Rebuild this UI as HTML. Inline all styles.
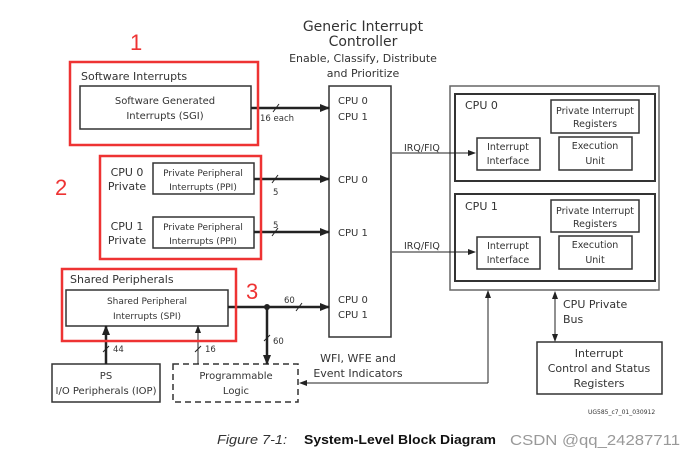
<!DOCTYPE html>
<html><head><meta charset="utf-8"><style>
html,body{margin:0;padding:0;background:#fff;}
svg{display:block;font-family:"DejaVu Sans","Liberation Sans",sans-serif;}
</style></head><body>
<svg width="695" height="458" viewBox="0 0 695 458" xmlns="http://www.w3.org/2000/svg">
<defs>
<marker id="a" markerWidth="10" markerHeight="8" refX="9" refY="4" orient="auto" markerUnits="userSpaceOnUse"><path d="M0,0 L10,4 L0,8 Z" fill="#222"/></marker>
<marker id="s" markerWidth="8" markerHeight="6" refX="7" refY="3" orient="auto" markerUnits="userSpaceOnUse"><path d="M0,0 L8,3 L0,6 Z" fill="#222"/></marker>
<marker id="sb" markerWidth="8" markerHeight="6" refX="1" refY="3" orient="auto" markerUnits="userSpaceOnUse"><path d="M8,0 L0,3 L8,6 Z" fill="#222"/></marker>
</defs>
<g fill="#333" text-anchor="middle">
<text x="363" y="31" font-size="14">Generic Interrupt</text>
<text x="363" y="46" font-size="14">Controller</text>
<text x="363" y="62" font-size="11">Enable, Classify, Distribute</text>
<text x="363" y="77" font-size="11">and Prioritize</text>
</g>
<g fill="none" stroke="#333" stroke-width="1.5">
<rect x="329" y="86" width="62" height="251"/>
<rect x="80" y="86" width="171" height="43"/>
<rect x="153" y="163" width="101" height="31"/>
<rect x="153" y="217" width="101" height="31"/>
<rect x="66" y="290" width="162" height="36"/>
<rect x="52" y="364" width="108" height="38"/>
<rect x="173" y="364" width="125" height="38" stroke-dasharray="6,4"/>
<rect x="450" y="86" width="209" height="204" stroke="#666"/>
<rect x="455" y="94" width="200" height="87" stroke-width="2"/>
<rect x="455" y="194" width="200" height="87" stroke-width="2"/>
<rect x="551" y="100" width="88" height="33"/>
<rect x="477" y="138" width="63" height="32"/>
<rect x="559" y="137" width="73" height="33"/>
<rect x="551" y="200" width="88" height="32"/>
<rect x="477" y="237" width="63" height="32"/>
<rect x="559" y="236" width="73" height="33"/>
<rect x="537" y="342" width="125" height="52"/>
</g>
<g stroke="#222" fill="none">
<line x1="251" y1="108" x2="329" y2="108" stroke-width="2.5" marker-end="url(#a)"/>
<line x1="254" y1="179" x2="329" y2="179" stroke-width="2.5" marker-end="url(#a)"/>
<line x1="254" y1="232" x2="329" y2="232" stroke-width="2.5" marker-end="url(#a)"/>
<line x1="228" y1="307" x2="329" y2="307" stroke-width="2.5" marker-end="url(#a)"/>
<line x1="267" y1="307" x2="267" y2="364" stroke-width="2.5" marker-end="url(#a)"/>
<line x1="106" y1="364" x2="106" y2="326" stroke-width="2.5" marker-end="url(#a)"/>
<line x1="198" y1="364" x2="198" y2="326" stroke-width="1" marker-end="url(#s)"/>
<line x1="392" y1="153" x2="475" y2="153" stroke-width="1" marker-end="url(#s)"/>
<line x1="392" y1="252" x2="475" y2="252" stroke-width="1" marker-end="url(#s)"/>
<polyline points="488,383 300,383" stroke-width="1" marker-end="url(#s)"/>
<line x1="488" y1="383" x2="488" y2="291" stroke-width="1" marker-end="url(#s)"/>
<line x1="555" y1="292" x2="555" y2="341" stroke-width="1" marker-end="url(#s)" marker-start="url(#sb)"/>
<g stroke-width="1">
<line x1="273" y1="112" x2="279" y2="104"/>
<line x1="272" y1="183" x2="278" y2="175"/>
<line x1="272" y1="236" x2="278" y2="228"/>
<line x1="296" y1="311" x2="302" y2="303"/>
<line x1="264" y1="341" x2="270" y2="335"/>
<line x1="103" y1="352" x2="109" y2="346"/>
<line x1="195" y1="352" x2="201" y2="346"/>
</g>
</g>
<circle cx="267" cy="307" r="3" fill="#222"/>
<g fill="#333" font-size="10" text-anchor="middle">
<text x="165" y="104">Software Generated</text>
<text x="165" y="119">Interrupts (SGI)</text>
<text x="203" y="176" font-size="9">Private Peripheral</text>
<text x="203" y="190" font-size="9">Interrupts (PPI)</text>
<text x="203" y="230" font-size="9">Private Peripheral</text>
<text x="203" y="244" font-size="9">Interrupts (PPI)</text>
<text x="147" y="304" font-size="9">Shared Peripheral</text>
<text x="147" y="319" font-size="9">Interrupts (SPI)</text>
<text x="106" y="379">PS</text>
<text x="106" y="394">I/O Peripherals (IOP)</text>
<text x="236" y="379">Programmable</text>
<text x="236" y="394">Logic</text>
<text x="127" y="176" font-size="11">CPU 0</text>
<text x="127" y="190" font-size="11">Private</text>
<text x="127" y="230" font-size="11">CPU 1</text>
<text x="127" y="244" font-size="11">Private</text>
<text x="595" y="114" font-size="9.5">Private Interrupt</text>
<text x="595" y="127" font-size="9.5">Registers</text>
<text x="595" y="214" font-size="9.5">Private Interrupt</text>
<text x="595" y="227" font-size="9.5">Registers</text>
<text x="508" y="150" font-size="9.5">Interrupt</text>
<text x="508" y="164" font-size="9.5">Interface</text>
<text x="508" y="249" font-size="9.5">Interrupt</text>
<text x="508" y="263" font-size="9.5">Interface</text>
<text x="595" y="149" font-size="9.5">Execution</text>
<text x="595" y="164" font-size="9.5">Unit</text>
<text x="595" y="248" font-size="9.5">Execution</text>
<text x="595" y="263" font-size="9.5">Unit</text>
<text x="599" y="357" font-size="11">Interrupt</text>
<text x="599" y="372" font-size="11">Control and Status</text>
<text x="599" y="387" font-size="11">Registers</text>
<text x="358" y="362" font-size="11">WFI, WFE and</text>
<text x="358" y="377" font-size="11">Event Indicators</text>
</g>
<g fill="#333" font-size="10">
<text x="81" y="80" font-size="11">Software Interrupts</text>
<text x="70" y="283" font-size="11">Shared Peripherals</text>
<text x="338" y="104">CPU 0</text><text x="338" y="120">CPU 1</text>
<text x="338" y="183">CPU 0</text>
<text x="338" y="236">CPU 1</text>
<text x="338" y="303">CPU 0</text><text x="338" y="318">CPU 1</text>
<text x="465" y="109" font-size="11">CPU 0</text>
<text x="465" y="210" font-size="11">CPU 1</text>
<text x="404" y="151" font-size="9.5">IRQ/FIQ</text>
<text x="404" y="249" font-size="9.5">IRQ/FIQ</text>
<text x="563" y="308" font-size="11">CPU Private</text>
<text x="563" y="323" font-size="11">Bus</text>
<text x="260" y="121" font-size="8.5">16 each</text>
<text x="273" y="195" font-size="8.5">5</text>
<text x="273" y="228" font-size="8.5">5</text>
<text x="284" y="303" font-size="8.5">60</text>
<text x="273" y="344" font-size="8.5">60</text>
<text x="113" y="352" font-size="8.5">44</text>
<text x="205" y="352" font-size="8.5">16</text>
<text x="588" y="414" font-size="6">UG585_c7_01_030912</text>
<text x="217" y="444" font-size="13" font-style="italic" font-family="Liberation Sans, sans-serif" textLength="70" lengthAdjust="spacingAndGlyphs">Figure 7-1:</text>
<text x="304" y="444" font-size="13" font-weight="bold" fill="#111" font-family="Liberation Sans, sans-serif" textLength="192" lengthAdjust="spacingAndGlyphs">System-Level Block Diagram</text>
<text x="510" y="445" font-size="15" fill="#999" font-family="Liberation Sans, sans-serif" textLength="170" lengthAdjust="spacingAndGlyphs">CSDN @qq_24287711</text>
</g>
<g fill="none" stroke="#ee3333" stroke-width="2.5">
<rect x="70" y="62" width="188" height="83"/>
<rect x="100" y="156" width="161" height="103"/>
<rect x="62" y="269" width="174" height="72"/>
</g>
<g fill="#ee3333" font-size="22" font-family="Liberation Sans, sans-serif">
<text x="130" y="50">1</text>
<text x="55" y="195">2</text>
<text x="246" y="299">3</text>
</g>
</svg>
</body></html>
